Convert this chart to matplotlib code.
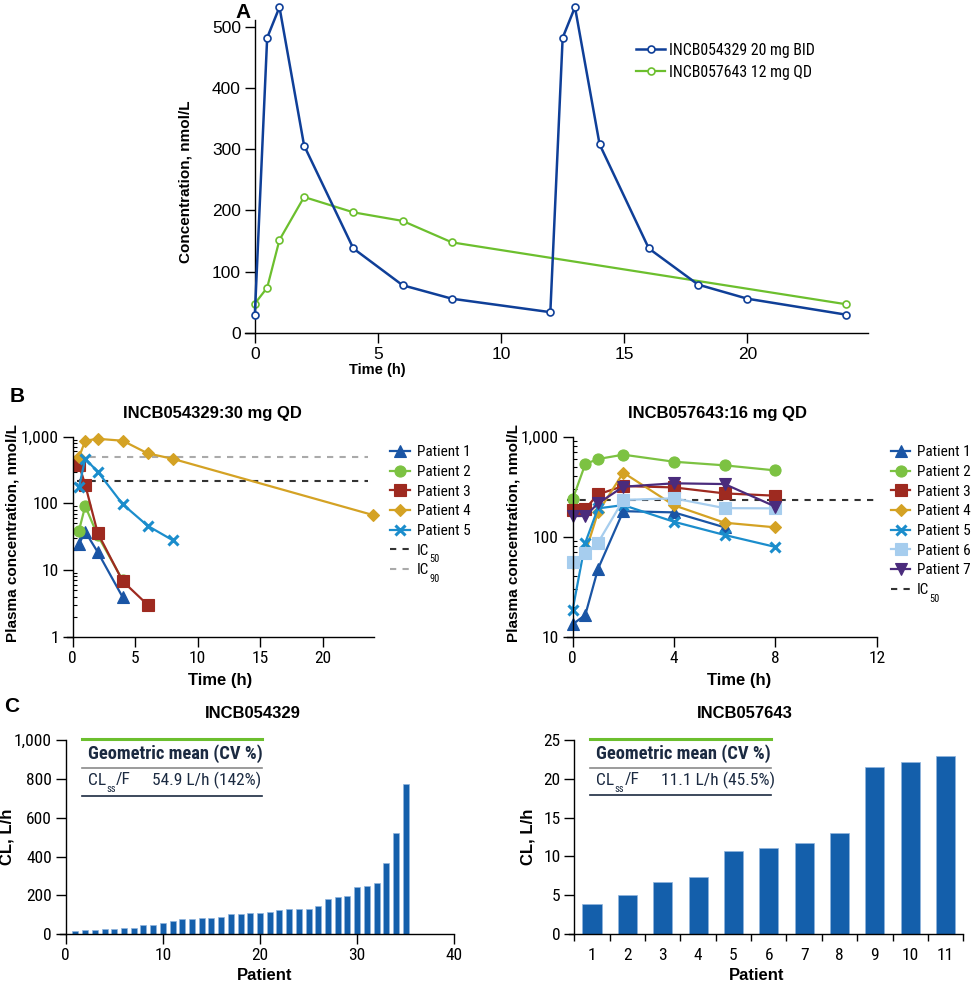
import os
import matplotlib
matplotlib.use('Agg')
import matplotlib.pyplot as plt
from matplotlib import font_manager as fm
from matplotlib.font_manager import FontProperties
from matplotlib.ticker import FixedLocator, FuncFormatter, LogLocator, NullFormatter

# ---------------- data ----------------
# Panel A
a_time_bid = [0, 0.5, 1, 2, 4, 6, 8, 12, 12.5, 13, 14, 16, 18, 20, 24]
a_conc_bid = [30, 482, 532, 306, 138, 78, 56, 34, 482, 532, 308, 138, 79, 56, 30]
a_time_qd = [0, 0.5, 1, 2, 4, 6, 8, 24]
a_conc_qd = [48, 74, 152, 222, 197, 183, 148, 47]
a_labels = ['INCB054329 20 mg BID', 'INCB057643 12 mg QD']

# Panel B left: INCB054329 30 mg QD
bl_title = 'INCB054329:30 mg QD'
bl_p1_t = [0.5, 1, 2, 4]
bl_p1_c = [24.5, 37.6, 18.6, 3.9]
bl_p2_t = [0.5, 1, 2, 4]
bl_p2_c = [38.9, 91, 33, 7]
bl_p3_t = [0.5, 1, 2, 4, 6]
bl_p3_c = [380, 190, 36, 6.8, 3.0]
bl_p4_t = [0.5, 1, 2, 4, 6, 8, 24]
bl_p4_c = [490, 870, 930, 870, 562, 466, 67]
bl_p5_t = [0.5, 1, 2, 4, 6, 8]
bl_p5_c = [174, 466, 299, 97, 46, 28]
bl_ic50 = 219
bl_ic90 = 495

# Panel B right: INCB057643 16 mg QD
br_title = 'INCB057643:16 mg QD'
br_t = [0, 0.5, 1, 2, 4, 6, 8]
br_p1_t = [0, 0.5, 1, 2, 4, 6]
br_p1_c = [13.3, 16.5, 47.5, 180, 175, 124]
br_p2_c = [236, 533, 598, 661, 562, 517, 460]
br_p3_c = [185, 190, 265, 321, 311, 271, 257]
br_p4_c = [54, 69, 175, 437, 206, 138, 124]
br_p5_c = [18.5, 87, 192, 207, 141, 104, 79]
br_p6_c = [56, 68, 87, 233, 242, 193, 192]
br_p7_c = [161, 161, 215, 316, 342, 336, 200]
br_ic50 = 233

patient_labels = ['Patient 1', 'Patient 2', 'Patient 3', 'Patient 4',
                  'Patient 5', 'Patient 6', 'Patient 7']

# Panel C
cl_left_patients = list(range(1, 36))
cl_left_values = [15, 21, 22, 27, 27, 33, 33, 46, 50, 57, 69, 81, 81, 84, 84, 87,
                  106, 106, 110, 110, 113, 125, 129, 129, 132, 148, 180, 192, 199,
                  244, 250, 262, 369, 520, 774]
cl_right_patients = list(range(1, 12))
cl_right_values = [3.87, 4.98, 6.74, 7.39, 10.74, 11.04, 11.77, 13.06, 21.56, 22.16, 22.94]
c_left_title = 'INCB054329'
c_right_title = 'INCB057643'
c_left_stat = '54.9 L/h (142%)'
c_right_stat = '11.1 L/h (45.5%)'

# ---------------- fonts ----------------
_files = [f.fname for f in fm.fontManager.ttflist]


def find_font(names, fallback_keys, avoid):
    base = {os.path.basename(p).lower(): p for p in _files}
    for n in names:
        if n.lower() in base:
            return base[n.lower()]
    for p in _files:
        b = os.path.basename(p).lower()
        if any(k in b for k in fallback_keys) and not any(a in b for a in avoid):
            return p
    return None


NF = find_font(['LiberationSansNarrow-Regular.ttf', 'ArialNarrow.ttf', 'arialn.ttf',
                'RobotoCondensed-Regular.ttf', 'NotoSans-Condensed.ttf',
                'NotoSans-CondensedRegular.ttf', 'OpenSans_Condensed-Regular.ttf',
                'DejaVuSansCondensed.ttf'],
               ['narrow', 'condensed'],
               ['bold', 'italic', 'oblique', 'light', 'thin', 'medium', 'black',
                'semi', 'extra', 'mono', 'serif'])
NBF = find_font(['LiberationSansNarrow-Bold.ttf', 'ArialNarrowBold.ttf', 'arialnb.ttf',
                 'RobotoCondensed-Bold.ttf', 'NotoSans-CondensedBold.ttf',
                 'OpenSans_Condensed-Bold.ttf', 'DejaVuSansCondensed-Bold.ttf'],
                ['narrowbold', 'narrow-bold', 'condensedbold', 'condensed-bold'],
                ['italic', 'oblique', 'semi', 'extra', 'mono', 'serif'])
REG = 'Liberation Sans'


def nprop(size, bold=False):
    if bold and NBF:
        return FontProperties(fname=NBF, size=size)
    if NF:
        return FontProperties(fname=NF, size=size)
    return FontProperties(family=REG, size=size * 0.86,
                          weight='bold' if bold else 'normal')


plt.rcParams['font.family'] = [REG, 'DejaVu Sans']
plt.rcParams['axes.linewidth'] = 1.0

W, H = 972, 982
fig = plt.figure(figsize=(W / 100, H / 100), dpi=100)


def ax_px(l, t, r, b):
    return fig.add_axes([l / W, 1 - b / H, (r - l) / W, (b - t) / H])


def ftext(x, y, s, **kw):
    return fig.text(x / W, 1 - y / H, s, **kw)


def bold(x, y, s, size=12, rot=0):
    ftext(x, y, s, family=REG, weight='bold', fontsize=size, rotation=rot,
          ha='center', va='center')


def base_style(ax):
    for s in ('top', 'right'):
        ax.spines[s].set_visible(False)
    ax.tick_params(which='major', direction='out', length=7, width=1.0,
                   labelsize=12, pad=3)


def narrow_ticks(ax, size=12.5):
    for lab in (ax.get_xticklabels(which='both') + ax.get_yticklabels(which='both')):
        lab.set_fontproperties(nprop(size))


def legend_at(ax, x, y, size, hl_px, gap_px, pitch_px):
    fs_px = size * 100 / 72
    box = 0.94 * fs_px
    return ax.legend(loc='upper left', bbox_to_anchor=(x / W, 1 - y / H),
                     bbox_transform=fig.transFigure, frameon=False, prop=nprop(size),
                     handlelength=hl_px / fs_px, handletextpad=gap_px / fs_px,
                     labelspacing=(pitch_px - box) / fs_px, borderpad=0,
                     borderaxespad=0)


BLUE_A = '#0f3f98'
GREEN_A = '#6cbf2e'

# ---------------- Panel A ----------------
axA = ax_px(245, 20, 868, 333)
base_style(axA)
axA.spines['left'].set_position(('data', 0))
axA.plot(a_time_bid, a_conc_bid, color=BLUE_A, lw=1.8, marker='o', ms=5,
         mfc='white', mec=BLUE_A, mew=1.2, clip_on=False, label=a_labels[0], zorder=3)
axA.plot(a_time_qd, a_conc_qd, color=GREEN_A, lw=1.6, marker='o', ms=5,
         mfc='white', mec=GREEN_A, mew=1.2, clip_on=False, label=a_labels[1], zorder=2)
axA.set_xlim(-0.4, 24.9)
axA.set_ylim(0, 511)
axA.set_xticks([0, 5, 10, 15, 20])
axA.set_yticks([0, 100, 200, 300, 400, 500])
axA.tick_params(labelsize=12.5)
legend_at(axA, 636, 42.5, 11.4, 29, 4, 22)
bold(243, 13, 'A', size=15)
bold(185, 182, 'Concentration, nmol/L', size=11, rot=90)
bold(377, 370, 'Time (h)', size=10.5)

# ---------------- Panel B ----------------
PC = ['#1a55a5', '#7cc242', '#9e2a20', '#d4a224', '#1b8dcc', '#a6cdee', '#4a2b7c']
PM = ['^', 'o', 's', 'D', 'x', 's', 'v']


def log_style(ax, lo, hi):
    ax.set_yscale('log')
    ax.set_ylim(lo, hi)
    ax.yaxis.set_major_locator(LogLocator(base=10, numticks=10))
    ax.yaxis.set_minor_locator(LogLocator(base=10, subs=range(2, 10), numticks=20))
    ax.yaxis.set_minor_formatter(NullFormatter())
    ax.yaxis.set_major_formatter(FuncFormatter(lambda v, p: f'{int(round(v)):,}'))
    ax.tick_params(axis='y', which='minor', direction='in', length=3, width=0.8)


def pline(ax, t, c, i):
    mew = 2.2 if PM[i] == 'x' else 0.8
    ms = 7.5 if PM[i] == 'x' else (6.5 if PM[i] == 'D' else 8)
    ax.plot(t, c, color=PC[i], lw=1.6, marker=PM[i], ms=ms, mfc=PC[i],
            mec=PC[i], mew=mew, clip_on=False, label=patient_labels[i])


legend_ic_texts = []

axBL = ax_px(66.7, 436.7, 374, 636.7)
base_style(axBL)
axBL.spines['left'].set_position(('data', 0))
log_style(axBL, 1, 1000)
axBL.set_xlim(-0.48, 24.1)
axBL.set_xticks([0, 5, 10, 15, 20])
pline(axBL, bl_p1_t, bl_p1_c, 0)
pline(axBL, bl_p2_t, bl_p2_c, 1)
pline(axBL, bl_p3_t, bl_p3_c, 2)
pline(axBL, bl_p4_t, bl_p4_c, 3)
pline(axBL, bl_p5_t, bl_p5_c, 4)
axBL.axhline(bl_ic50, xmin=0.032, xmax=0.98, color='#333333', lw=1.5,
             ls=(0, (3, 3)), label='IC', zorder=1)
axBL.axhline(bl_ic90, xmin=0.032, xmax=0.98, color='#aaaaaa', lw=1.5,
             ls=(0, (3, 3)), label='IC', zorder=1)
narrow_ticks(axBL)
legBL = legend_at(axBL, 390, 445.5, 11, 20, 7, 20)
legend_ic_texts.append((legBL.get_texts()[5], '50'))
legend_ic_texts.append((legBL.get_texts()[6], '90'))
bold(17, 397, 'B', size=15)
bold(212, 414, bl_title, size=12)
bold(13, 533, 'Plasma concentration, nmol/L', size=11, rot=90)
bold(220, 680, 'Time (h)', size=12)

axBR = ax_px(567.3, 436.7, 876.7, 636.7)
base_style(axBR)
axBR.spines['left'].set_position(('data', 0))
log_style(axBR, 10, 1000)
axBR.set_xlim(-0.21, 12)
axBR.set_xticks([0, 4, 8, 12])
pline(axBR, br_p1_t, br_p1_c, 0)
pline(axBR, br_t, br_p2_c, 1)
pline(axBR, br_t, br_p3_c, 2)
pline(axBR, br_t, br_p4_c, 3)
pline(axBR, br_t, br_p5_c, 4)
pline(axBR, br_t, br_p6_c, 5)
pline(axBR, br_t, br_p7_c, 6)
axBR.axhline(br_ic50, xmin=0, xmax=1, color='#333333', lw=1.5,
             ls=(0, (3, 3)), label='IC', zorder=1)
narrow_ticks(axBR)
legBR = legend_at(axBR, 891, 445.5, 11, 19, 7, 20)
legend_ic_texts.append((legBR.get_texts()[7], '50'))
bold(717, 414, br_title, size=12)
bold(513, 533, 'Plasma concentration, nmol/L', size=11, rot=90)
bold(739, 680, 'Time (h)', size=12)

# ---------------- Panel C ----------------
BAR = '#145fab'
NAVY = '#1b2a41'
cl_texts = []


def table(ax, x0, x1, stat):
    tr = ax.transAxes
    ax.plot([x0, x1], [1.003, 1.003], transform=tr, color='#6cbf2e', lw=2.2, clip_on=False)
    ax.plot([x0, x1], [0.858, 0.858], transform=tr, color='#8a8a8a', lw=1.2, clip_on=False)
    ax.plot([x0, x1], [0.714, 0.714], transform=tr, color=NAVY, lw=1.2, clip_on=False)
    ax.text(x0 + 0.015, 0.928, 'Geometric mean (CV %)', transform=tr,
            fontproperties=nprop(13.3, bold=True), color=NAVY, va='center', ha='left')
    t = ax.text(x0 + 0.015, 0.79, 'CL', transform=tr, fontproperties=nprop(12.5),
                color=NAVY, va='center', ha='left')
    cl_texts.append(t)
    ax.text(0.2325, 0.79, stat, transform=tr, fontproperties=nprop(12.5), color=NAVY,
            va='center', ha='left')


axCL = ax_px(60, 740, 454.3, 934.3)
base_style(axCL)
axCL.spines['left'].set_position(('data', 0))
axCL.bar(cl_left_patients, cl_left_values, width=0.62, color=BAR,
         edgecolor='#8fb4dd', linewidth=0.5)
axCL.set_xlim(-0.59, 40)
axCL.set_ylim(0, 1000)
axCL.set_xticks([0, 10, 20, 30, 40])
axCL.set_yticks([0, 200, 400, 600, 800, 1000])
axCL.yaxis.set_major_formatter(FuncFormatter(lambda v, p: f'{int(round(v)):,}'))
narrow_ticks(axCL)
table(axCL, 0.055, 0.513, c_left_stat)
bold(12, 706, 'C', size=15)
bold(253, 713, c_left_title, size=12)
bold(7, 837, 'CL, L/h', size=12, rot=90)
bold(265, 975, 'Patient', size=12)

axCR = ax_px(569, 740, 963.3, 934)
base_style(axCR)
axCR.spines['left'].set_position(('data', 0.5))
axCR.bar(cl_right_patients, cl_right_values, width=0.54, color=BAR,
         edgecolor='#8fb4dd', linewidth=0.5)
axCR.set_xlim(0.35, 11.5)
axCR.set_ylim(0, 25)
axCR.set_yticks([0, 5, 10, 15, 20, 25])
axCR.xaxis.set_major_locator(FixedLocator([i + 0.5 for i in range(0, 12)]))
axCR.xaxis.set_major_formatter(NullFormatter())
axCR.xaxis.set_minor_locator(FixedLocator(cl_right_patients))
axCR.xaxis.set_minor_formatter(FuncFormatter(lambda v, p: f'{int(round(v))}'))
axCR.tick_params(axis='x', which='major', length=5)
axCR.tick_params(axis='x', which='minor', length=0, pad=10)
narrow_ticks(axCR)
table(axCR, 0.053, 0.512, c_right_stat)
bold(745, 713, c_right_title, size=12)
bold(528, 837, 'CL, L/h', size=12, rot=90)
bold(757, 975, 'Patient', size=12)

# ---------------- subscripts (placed after layout) ----------------
fig.canvas.draw()
rend = fig.canvas.get_renderer()
for t, sub in legend_ic_texts:
    bb = t.get_window_extent(rend)
    fs_px = t.get_fontsize() * 100 / 72
    base = bb.y0 + 0.22 * fs_px
    fig.text((bb.x1 + 0.5) / W, (base - 0.52 * fs_px) / H, sub,
             fontproperties=nprop(7.5), va='baseline', ha='left', color='black')
for t in cl_texts:
    bb = t.get_window_extent(rend)
    fs_px = t.get_fontsize() * 100 / 72
    base = bb.y0 + 0.22 * fs_px
    st = fig.text((bb.x1 + 0.5) / W, (base - 0.42 * fs_px) / H, 'ss',
                  fontproperties=nprop(7.5), va='baseline', ha='left', color=NAVY)
    sb = st.get_window_extent(rend)
    fig.text((sb.x1 + 0.3) / W, base / H, '/F', fontproperties=nprop(12.5),
             va='baseline', ha='left', color=NAVY)

fig.savefig('out.png', dpi=100)
